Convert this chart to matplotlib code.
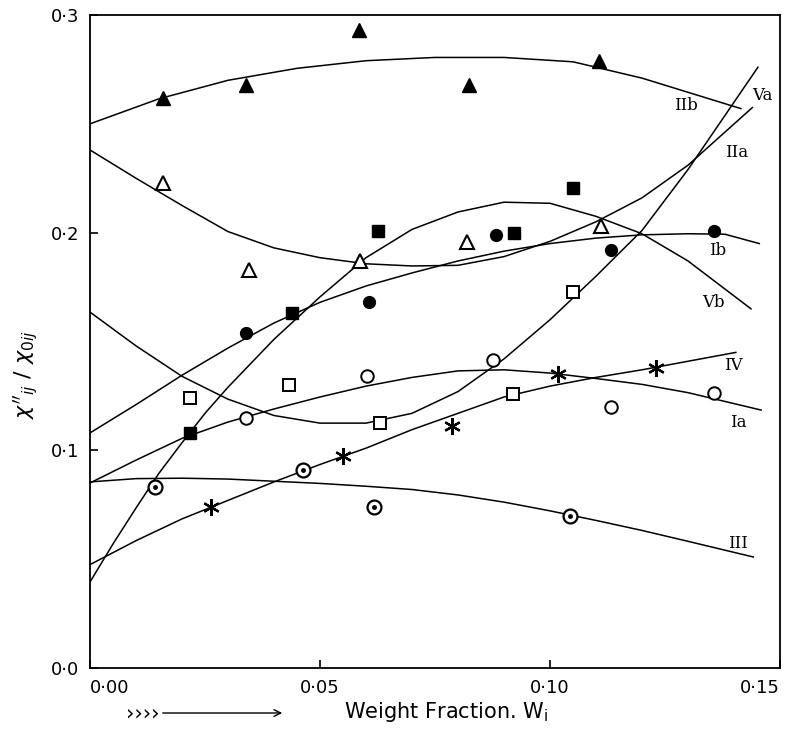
import matplotlib
matplotlib.use('Agg')
import matplotlib.pyplot as plt

# data points (weight fraction, chi''/chi0)
tri_f_x = [0.0159, 0.034, 0.0584, 0.0823, 0.1106]
tri_f_y = [0.262, 0.268, 0.293, 0.268, 0.279]
tri_o_x = [0.0159, 0.0346, 0.0588, 0.082, 0.111]
tri_o_y = [0.223, 0.183, 0.187, 0.1957, 0.203]
sq_f_x = [0.0218, 0.044, 0.0627, 0.0921, 0.105]
sq_f_y = [0.108, 0.163, 0.2007, 0.1998, 0.2205]
circ_f_x = [0.034, 0.0607, 0.0882, 0.1132, 0.1356]
circ_f_y = [0.154, 0.168, 0.1989, 0.192, 0.2007]
sq_o_x = [0.0218, 0.0433, 0.063, 0.092, 0.105]
sq_o_y = [0.124, 0.130, 0.1125, 0.126, 0.1727]
circ_o_x = [0.034, 0.0603, 0.0877, 0.1132, 0.1356]
circ_o_y = [0.115, 0.134, 0.1415, 0.120, 0.1263]
star_x = [0.0264, 0.0551, 0.0788, 0.1017, 0.123]
star_y = [0.074, 0.0975, 0.111, 0.135, 0.138]
dot_x = [0.0141, 0.0463, 0.0617, 0.1044]
dot_y = [0.0832, 0.0908, 0.074, 0.0697]

# fitted curves
IIb_x = [0, 0.015, 0.03, 0.045, 0.06, 0.075, 0.09, 0.105, 0.12, 0.1415]
IIb_y = [0.250, 0.2615, 0.270, 0.2755, 0.279, 0.2805, 0.2805, 0.2785, 0.271, 0.257]
IIa_x = [0, 0.01, 0.02, 0.03, 0.04, 0.05, 0.06, 0.07, 0.08, 0.09, 0.1, 0.11, 0.12, 0.13, 0.144]
IIa_y = [0.238, 0.225, 0.2125, 0.2005, 0.193, 0.1885, 0.1857, 0.1847, 0.185, 0.189, 0.196, 0.205, 0.216, 0.231, 0.2575]
Va_x = [0, 0.01, 0.02, 0.03, 0.04, 0.05, 0.06, 0.07, 0.08, 0.09, 0.1, 0.11, 0.12, 0.13, 0.1452]
Va_y = [0.1635, 0.148, 0.134, 0.1235, 0.116, 0.1125, 0.1125, 0.117, 0.127, 0.142, 0.16, 0.18, 0.201, 0.229, 0.276]
Ib_x = [0, 0.01, 0.02, 0.03, 0.04, 0.05, 0.06, 0.07, 0.08, 0.09, 0.1, 0.11, 0.12, 0.13, 0.138, 0.1455]
Ib_y = [0.108, 0.121, 0.1345, 0.147, 0.1585, 0.168, 0.1755, 0.1815, 0.187, 0.1915, 0.195, 0.1975, 0.199, 0.1995, 0.1993, 0.195]
Vb_x = [0, 0.005, 0.01, 0.015, 0.02, 0.025, 0.03, 0.04, 0.05, 0.06, 0.07, 0.08, 0.09, 0.1, 0.11, 0.12, 0.13, 0.1437]
Vb_y = [0.0395, 0.057, 0.0735, 0.0895, 0.1035, 0.117, 0.129, 0.151, 0.1705, 0.1885, 0.2015, 0.2095, 0.214, 0.2135, 0.2075, 0.1995, 0.187, 0.165]
Ia_x = [0, 0.01, 0.02, 0.03, 0.04, 0.05, 0.06, 0.07, 0.08, 0.09, 0.1, 0.11, 0.12, 0.13, 0.1459]
Ia_y = [0.085, 0.0955, 0.1055, 0.113, 0.119, 0.1245, 0.1295, 0.1335, 0.1365, 0.137, 0.1355, 0.133, 0.1303, 0.1265, 0.1185]
IV_x = [0, 0.01, 0.02, 0.03, 0.04, 0.05, 0.06, 0.07, 0.08, 0.09, 0.1, 0.11, 0.12, 0.1404]
IV_y = [0.0475, 0.0585, 0.0685, 0.077, 0.0855, 0.0935, 0.101, 0.1095, 0.117, 0.1245, 0.1295, 0.1335, 0.137, 0.145]
III_x = [0, 0.01, 0.02, 0.03, 0.04, 0.05, 0.06, 0.07, 0.08, 0.09, 0.1, 0.11, 0.12, 0.13, 0.1442]
III_y = [0.0855, 0.087, 0.0872, 0.0868, 0.0858, 0.0848, 0.0835, 0.082, 0.0795, 0.0762, 0.0722, 0.0678, 0.0632, 0.0582, 0.051]

curve_labels = ['IIb', 'Va', 'IIa', 'Ib', 'Vb', 'IV', 'Ia', 'III']
label_x = [0.1296, 0.1462, 0.1405, 0.1365, 0.1356, 0.1398, 0.141, 0.1409]
label_y = [0.2586, 0.263, 0.237, 0.192, 0.168, 0.139, 0.113, 0.0574]

x_ticks = [0.0, 0.05, 0.10, 0.15]
x_ticklabels = ['0\u00b700', '0\u00b705', '0\u00b710', '0\u00b715']
y_ticks = [0.0, 0.1, 0.2, 0.3]
y_ticklabels = ['0\u00b70', '0\u00b71', '0\u00b72', '0\u00b73']

fig = plt.figure(figsize=(7.88, 7.31), dpi=100)
ax = fig.add_axes([90 / 788, 63 / 731, 690 / 788, 653 / 731])

lw = 1.1
for cx, cy in [(IIb_x, IIb_y), (IIa_x, IIa_y), (Va_x, Va_y), (Ib_x, Ib_y),
               (Vb_x, Vb_y), (Ia_x, Ia_y), (IV_x, IV_y), (III_x, III_y)]:
    ax.plot(cx, cy, color='black', lw=lw, zorder=2)

ax.plot(tri_f_x, tri_f_y, '^', ms=10, color='black', zorder=3)
ax.plot(tri_o_x, tri_o_y, '^', ms=10, mfc='white', mec='black', mew=1.5, zorder=3)
ax.plot(sq_f_x, sq_f_y, 's', ms=8, color='black', zorder=3)
ax.plot(circ_f_x, circ_f_y, 'o', ms=8.5, color='black', zorder=3)
ax.plot(sq_o_x, sq_o_y, 's', ms=8, mfc='white', mec='black', mew=1.4, zorder=3)
ax.plot(circ_o_x, circ_o_y, 'o', ms=9, mfc='white', mec='black', mew=1.4, zorder=3)
ax.plot(star_x, star_y, marker=(6, 2, 0), ls='none', ms=12, mec='black', mew=1.6, zorder=3)
ax.plot(dot_x, dot_y, 'o', ms=10, mfc='white', mec='black', mew=1.6, zorder=3)
ax.plot(dot_x, dot_y, 'o', ms=2.5, color='black', zorder=4)

for t, lx, ly in zip(curve_labels, label_x, label_y):
    ax.text(lx, ly, t, fontsize=12, family='DejaVu Serif', ha='center', va='center')

ax.set_xlim(0, 0.15)
ax.set_ylim(0, 0.3)
ax.set_xticks(x_ticks)
ax.set_xticklabels(x_ticklabels, fontsize=13)
ax.set_yticks(y_ticks)
ax.set_yticklabels(y_ticklabels, fontsize=13)
ax.get_xticklabels()[-1].set_ha('right')
ax.get_xticklabels()[0].set_ha('left')
ax.tick_params(direction='in', length=6, width=1.2, pad=8)
for s in ax.spines.values():
    s.set_linewidth(1.3)

ax.set_ylabel(r"$\chi''_{ij}$ / $\chi_{0ij}$", fontsize=16)
ax.yaxis.set_label_coords(-0.072, 0.45)

fig.text(446 / 788, 1 - 712 / 731, r'Weight Fraction. W$_\mathregular{i}$', fontsize=15,
         ha='center', va='center')
fig.text(126 / 788, 1 - 713 / 731, '\u203a\u203a\u203a\u203a', fontsize=15,
         ha='left', va='center')
fig.add_artist(matplotlib.patches.FancyArrowPatch(
    (160 / 788, 1 - 713 / 731), (285 / 788, 1 - 713 / 731), transform=fig.transFigure,
    arrowstyle='->', mutation_scale=12, lw=1.0, color='black'))

fig.savefig('out.png', dpi=100)
